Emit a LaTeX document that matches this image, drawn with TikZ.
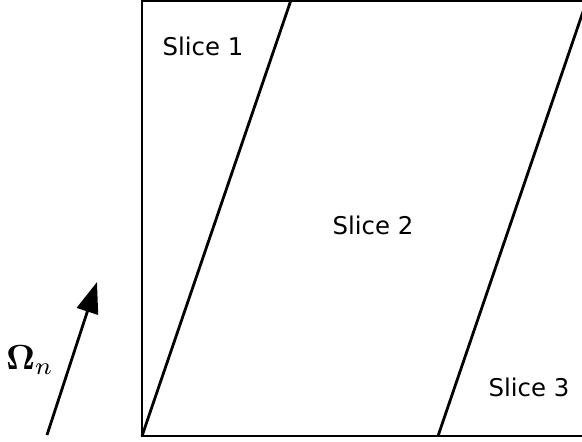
\documentclass[tikz,border=0pt]{standalone}
\usepackage[no-math]{fontspec}
\setsansfont{DejaVu Sans}
\usepackage{tikz}
\usetikzlibrary{arrows.meta}

\begin{document}
\begin{tikzpicture}[x=1bp,y=-1bp,line width=2.8bp,
 lbl/.style={font=\sffamily\fontsize{24.5}{29}\selectfont,inner sep=0pt},
 >={Triangle[length=31bp,width=22bp]}]
\useasboundingbox (0,0) rectangle (582,442);
\clip (0,0) rectangle (582,442);
% slab outline, cut off at the right
\draw (600,0.6) -- (142,0.6) -- (142,436) -- (600,436);
\draw (142,436) -- (291,0);
\draw (438,436) -- (587,0);
\node[lbl] (s1) at (203,46) {Slice 1};
\node[lbl] (s2) at (373,225) {Slice 2};
\node[lbl] (s3) at (529,387) {Slice 3};
% direction
\coordinate (dirA) at (47,435);
\coordinate (dirB) at (97,282);
\draw[->] (dirA) -- (dirB);
\node[scale=3.5,inner sep=0pt] (om) at (30,360) {$\mathbf{\Omega}_n$};
\end{tikzpicture}
\end{document}
